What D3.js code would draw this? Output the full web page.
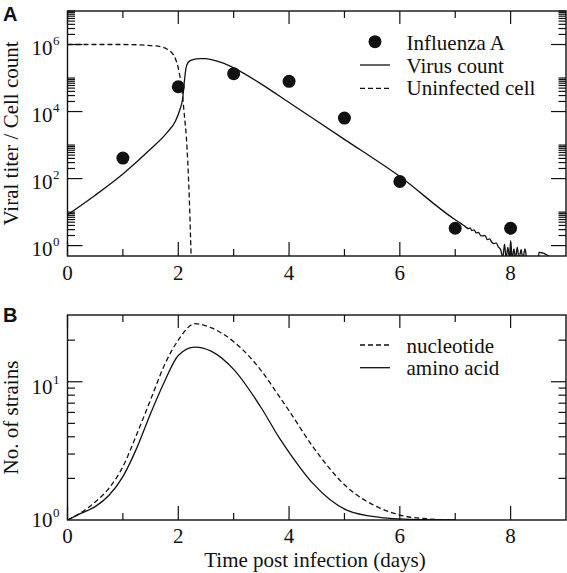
<!DOCTYPE html>
<html><head><meta charset="utf-8">
<script src="https://cdn.jsdelivr.net/npm/d3@7"></script>
<style>body{margin:0;background:#fff}svg{display:block}</style>
</head><body>
<svg id="c" width="567" height="573"></svg>
<script>
// ---------- DATA ----------
// Panel A: observed Influenza A titers
const obsDays = [1, 2, 3, 4, 5, 6, 7, 8];
const obsTiter = [410, 55000, 135000, 80000, 6400, 82, 3.3, 3.3];
// Panel A: model virus count (solid)
const virusDays = [0, 0.5, 1.0, 1.5, 1.8, 1.95, 2.03, 2.08, 2.11, 2.14, 2.18, 2.25, 2.4, 2.5, 2.6, 2.8, 3.0, 3.5, 4.0, 5.0, 6.0, 7.0,
  7.1, 7.2, 7.24, 7.27, 7.3, 7.34, 7.38, 7.42, 7.46, 7.5, 7.54, 7.58, 7.62, 7.66, 7.7, 7.74, 7.78, 7.82, 7.86, 7.89, 7.92, 7.95, 7.98,
  8.0, 8.03, 8.06, 8.09, 8.12, 8.15, 8.19, 8.22, 8.26, 8.29, 8.33, 8.5, 8.51, 8.7, 8.75, 9.0];
const virusCount = [8.3, 32, 138, 760, 2400, 5250, 11500, 25000, 79000, 200000, 295000, 347000, 380000, 380000, 355000, 282000, 200000, 66000, 18600, 1480, 115, 5.9,
  4.6, 3.5, 3.2, 3.4, 2.8, 2.95, 2.4, 2.5, 2.0, 1.95, 2.0, 1.5, 1.6, 1.26, 1.15, 1.2, 0.9, 0.76, 0.45, 1.1, 0.4, 0.9, 0.4,
  1.4, 0.4, 0.8, 0.4, 0.9, 0.4, 0.76, 0.4, 0.8, 0.4, 0.25, 0.25, 0.63, 0.47, 0.25, 0.25];
// Panel A: uninfected cells (dashed)
const cellDays = [0, 1.0, 1.5, 1.7, 1.8, 1.9, 1.95, 2.0, 2.03, 2.07, 2.1, 2.16, 2.2, 2.235];
const cellCount = [1e6, 1e6, 933000, 851000, 724000, 525000, 372000, 200000, 112000, 40000, 11500, 720, 23, 0.32];
// Panel B: number of strains
const strainDays = [0, 0.25, 0.5, 0.75, 1.0, 1.25, 1.5, 1.75, 2.0, 2.3, 2.6, 3.0, 3.5, 3.83, 4.0, 4.43, 5.04, 5.64, 6.0, 6.5, 7.0];
const aminoAcid = [1, 1.12, 1.25, 1.51, 2.06, 3.31, 5.89, 10, 15.5, 17.8, 16.6, 12.3, 6.46, 3.89, 3.09, 1.84, 1.18, 1.045, 1.018, 1.005, 1];
const nucleotide = [1, 1.135, 1.35, 1.70, 2.43, 4.17, 7.41, 13.2, 20, 26.3, 24.5, 19.5, 12.0, 7.76, 6.17, 3.39, 1.74, 1.22, 1.086, 1.019, 1];
// ticks
const xMajorTicks = [0, 2, 4, 6, 8];
const xMinorTicks = [1, 3, 5, 7];
const yLabelExpA = [0, 2, 4, 6];
const yLabelExpB = [0, 1];
const legendA = ["Influenza A", "Virus count", "Uninfected cell"];
const legendB = ["nucleotide", "amino acid"];

// ---------- DRAW ----------
const svg = d3.select("#c");
const INK = "#111";
const FONT = "'Liberation Serif','Times New Roman',serif";
const L = 67.5, R = 566;

function panel(top, bottom, yDomain, id) {
  const x = d3.scaleLinear().domain([0, 9]).range([L, R]);
  const y = d3.scaleLog().domain(yDomain).range([bottom, top]);
  const g = svg.append("g");
  g.append("clipPath").attr("id", id).append("rect")
    .attr("x", L).attr("y", top).attr("width", R - L).attr("height", bottom - top);
  return {x, y, g, top, bottom};
}

function frameAndTicks(p, yMajor, yMinor, labDy) {
  const {x, y, g, top, bottom} = p;
  const tk = (x1, y1, x2, y2) => g.append("line").attr("x1", x1).attr("y1", y1).attr("x2", x2).attr("y2", y2)
    .attr("stroke", INK).attr("stroke-width", 1.2);
  xMajorTicks.forEach(v => { tk(x(v), bottom, x(v), bottom - 14); tk(x(v), top, x(v), top + 13); });
  xMinorTicks.forEach(v => { tk(x(v), bottom, x(v), bottom - 7); tk(x(v), top, x(v), top + 7); });
  yMajor.forEach(v => { tk(L, y(v), L + 15, y(v)); tk(R, y(v), R - 15, y(v)); });
  yMinor.forEach(v => { tk(L, y(v), L + 7.5, y(v)); tk(R, y(v), R - 7.5, y(v)); });
  g.append("rect").attr("x", L).attr("y", top).attr("width", R - L).attr("height", bottom - top)
    .attr("fill", "none").attr("stroke", INK).attr("stroke-width", 1.4);
  xMajorTicks.forEach(v => g.append("text").attr("x", x(v)).attr("y", bottom + labDy)
    .attr("text-anchor", "middle").attr("font-family", FONT).attr("font-size", 21).attr("fill", INK).text(v));
}

function yLabel(p, exp, dy) {
  const yy = p.y(Math.pow(10, exp));
  p.g.append("text").attr("x", 52.5).attr("y", yy + dy).attr("text-anchor", "end")
    .attr("font-family", FONT).attr("font-size", 21).attr("fill", INK).text("10");
  p.g.append("text").attr("x", 53).attr("y", yy + dy - 10).attr("text-anchor", "start")
    .attr("font-family", FONT).attr("font-size", 13).attr("fill", INK).text(exp);
}

// ----- Panel A -----
const A = panel(11, 256, [0.49, 1e7], "clipA");
const majA = yLabelExpA.map(e => Math.pow(10, e));
const minA = [];
yLabelExpA.forEach(e => { for (let k = 2; k <= 10; k++) minA.push(k * Math.pow(10, e)); });
frameAndTicks(A, majA, minA, 23.5);
yLabelExpA.forEach(e => yLabel(A, e, 10.5));

const lineA = (xs, ys) => d3.line().x((d, i) => A.x(xs[i])).y(d => A.y(d)).curve(d3.curveMonotoneX)(ys);
A.g.append("path").attr("d", lineA(cellDays, cellCount)).attr("clip-path", "url(#clipA)")
  .attr("fill", "none").attr("stroke", INK).attr("stroke-width", 1.3).attr("stroke-dasharray", "5,3");
A.g.append("path").attr("d", lineA(virusDays, virusCount)).attr("clip-path", "url(#clipA)")
  .attr("fill", "none").attr("stroke", INK).attr("stroke-width", 1.3);
A.g.selectAll("circle.obs").data(obsTiter).enter().append("circle")
  .attr("cx", (d, i) => A.x(obsDays[i])).attr("cy", d => A.y(d)).attr("r", 6.5).attr("fill", INK);

// legend A
const lgA = svg.append("g").attr("font-family", FONT).attr("font-size", 21).attr("fill", INK);
lgA.append("circle").attr("cx", 375).attr("cy", 41.7).attr("r", 6.5).attr("fill", INK);
lgA.append("line").attr("x1", 360).attr("x2", 390).attr("y1", 65).attr("y2", 65).attr("stroke", INK).attr("stroke-width", 1.3);
lgA.append("line").attr("x1", 360).attr("x2", 390).attr("y1", 88.3).attr("y2", 88.3).attr("stroke", INK).attr("stroke-width", 1.3).attr("stroke-dasharray", "5,3");
legendA.forEach((t, i) => lgA.append("text").attr("x", 406.5).attr("y", 50 + i * 22.7).text(t));

// ----- Panel B -----
const B = panel(315, 520, [1, 30.4], "clipB");
frameAndTicks(B, [10], [2, 3, 4, 5, 6, 7, 8, 9, 20], 22.5);
yLabel(B, 1, 12.5);
yLabel(B, 0, 7);
const lineB = (ys) => d3.line().x((d, i) => B.x(strainDays[i])).y(d => B.y(d)).curve(d3.curveMonotoneX)(ys);
B.g.append("path").attr("d", lineB(nucleotide)).attr("clip-path", "url(#clipB)")
  .attr("fill", "none").attr("stroke", INK).attr("stroke-width", 1.3).attr("stroke-dasharray", "5,3");
B.g.append("path").attr("d", lineB(aminoAcid)).attr("clip-path", "url(#clipB)")
  .attr("fill", "none").attr("stroke", INK).attr("stroke-width", 1.3);

const lgB = svg.append("g").attr("font-family", FONT).attr("font-size", 21).attr("fill", INK);
lgB.append("line").attr("x1", 360).attr("x2", 390).attr("y1", 345).attr("y2", 345).attr("stroke", INK).attr("stroke-width", 1.3).attr("stroke-dasharray", "5,3");
lgB.append("line").attr("x1", 360).attr("x2", 390).attr("y1", 367.7).attr("y2", 367.7).attr("stroke", INK).attr("stroke-width", 1.3);
legendB.forEach((t, i) => lgB.append("text").attr("x", 406.5).attr("y", 352.7 + i * 22.7).text(t));

// titles
svg.append("text").attr("transform", `translate(18,${(11 + 256) / 2}) rotate(-90)`).attr("text-anchor", "middle")
  .attr("font-family", FONT).attr("font-size", 21).attr("fill", INK).text("Viral titer / Cell count");
svg.append("text").attr("transform", `translate(18,${(315 + 520) / 2}) rotate(-90)`).attr("text-anchor", "middle")
  .attr("font-family", FONT).attr("font-size", 21).attr("fill", INK).text("No. of strains");
svg.append("text").attr("x", 315).attr("y", 567).attr("text-anchor", "middle")
  .attr("font-family", FONT).attr("font-size", 21).attr("fill", INK).text("Time post infection (days)");
svg.append("text").attr("x", 3).attr("y", 21).attr("font-family", "'Liberation Sans',Arial,sans-serif")
  .attr("font-weight", "bold").attr("font-size", 20).attr("fill", INK).text("A");
svg.append("text").attr("x", 3).attr("y", 322).attr("font-family", "'Liberation Sans',Arial,sans-serif")
  .attr("font-weight", "bold").attr("font-size", 20).attr("fill", INK).text("B");
</script>
</body></html>
